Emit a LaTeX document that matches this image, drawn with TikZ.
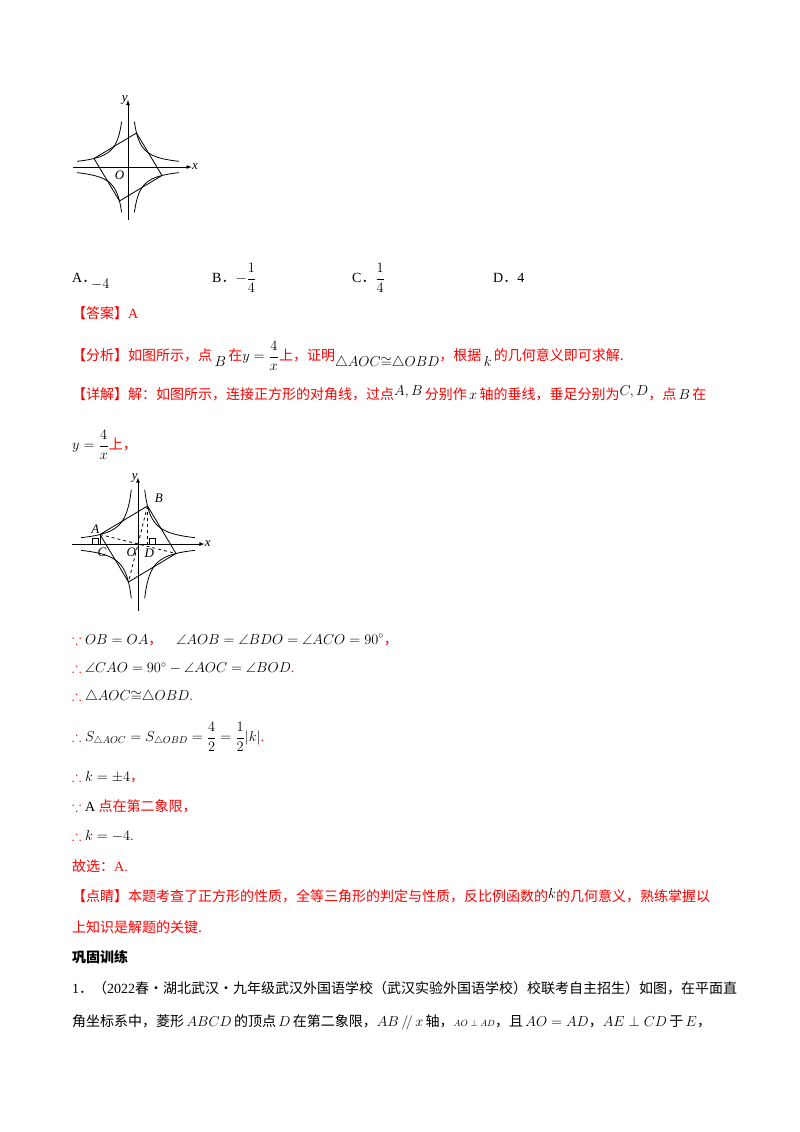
\documentclass[tikz,border=0pt]{standalone}
\usepackage{amsmath,amssymb}
\usepackage{fontspec}
\setmainfont{Liberation Serif}
\newfontfamily\cjk{Noto Sans CJK SC}
\newcommand{\zc}{{\cjk ，}}
\newcommand{\zd}{{\cjk ．}}
\begin{document}
\begin{tikzpicture}[x=1pt,y=-1pt,
  t/.style={anchor=west,inner sep=0pt,font=\fontsize{14}{16}\selectfont},
  r/.style={t,text=red},
  lab/.style={inner sep=0pt,font=\fontsize{13}{14}\selectfont\itshape}]
\useasboundingbox[fill=white] (0,0) rectangle (800,1132);
% diagram 1
\begin{scope}[shift={(128,167)},x=8.5pt,y=8.5pt,line width=0.8pt]
 \draw[-latex] (-6.5,0) -- (7.5,0) node[lab,anchor=west] (x1) {x};
 \draw[-latex] (0,-6.2) -- (0,7.9) node[lab,anchor=east] (y1) {y};
 \foreach \sx/\sy in {1/1,-1/1,1/-1,-1/-1}
  \draw[domain=0.75:6,samples=40] plot ({\sx*\x},{\sy*4/\x});
 \draw (1,4) -- (4,-1) -- (-1,-4) -- (-4,1) -- cycle;
 \node[lab] (o1) at (-1,-1) {O};
\end{scope}
% diagram 2
\begin{scope}[shift={(138,544)},x=9.5pt,y=9.5pt,line width=0.8pt]
 \draw[-latex] (-7,0) -- (7,0) node[lab,anchor=west] (x2) {x};
 \draw[-latex] (0,-7) -- (0,7) node[lab,anchor=east] (y2) {y};
 \foreach \sx/\sy in {1/1,-1/1,1/-1,-1/-1}
  \draw[domain=0.7:6,samples=40] plot ({\sx*\x},{\sy*4/\x});
 \coordinate (A) at (-4,1); \coordinate (B) at (1,4);
 \coordinate (P) at (4,-1); \coordinate (Q) at (-1,-4);
 \coordinate (C) at (-4,0); \coordinate (D) at (1,0);
 \draw (B) -- (P) -- (Q) -- (A) -- cycle;
 \draw[dashed] (A) -- (P); \draw[dashed] (B) -- (Q); \draw[dashed] (B) -- (D);
 \draw (A) -- (C);
 \draw (-4.8,0) rectangle (-4.2,0.6); \draw (1.2,0) rectangle (1.8,0.6);
 \node[lab] (la) at (-4.5,1.6) {A}; \node[lab] (lb) at (2.2,4.8) {B};
 \node[lab] (lc) at (-3.8,-0.9) {C}; \node[lab] (lo) at (-0.7,-0.9) {O};
 \node[lab] (ld) at (1.2,-1.0) {D};
\end{scope}
% text
\node[t] (a) at (72,278) {A\zd};
\node[t] (a2) at (91,284) {$-4$};
\node[t] (b) at (212,278) {B\zd$-\dfrac14$};
\node[t] (c) at (352,278) {C\zd$\dfrac14$};
\node[t] (d) at (493,278) {D\zd 4};
\node[r] (ans) at (72,313) {\cjk 【答案】\rmfamily A};
\node[r] (fx) at (72,356) {\cjk 【分析】如图所示，点\,\textcolor{black}{\raisebox{-6pt}{$B$}}\,在\textcolor{black}{$y=\dfrac4x$}上，证明\textcolor{black}{\raisebox{-6pt}{$\triangle AOC{\cong}\triangle OBD$}}，根据\,\textcolor{black}{\raisebox{-6pt}{$k$}}\,的几何意义即可求解.};
\node[r] (xj) at (72,393) {\cjk 【详解】解：如图所示，连接正方形的对角线，过点\textcolor{black}{\raisebox{4pt}{$A,B$}}\,分别作\,\textcolor{black}{$x$}\,轴的垂线，垂足分别为\textcolor{black}{\raisebox{4pt}{$C,D$}}，点\,\textcolor{black}{$B$}\,在};
\node[r] (l3) at (72,445) {\textcolor{black}{$y=\dfrac4x$}\cjk 上，};
\node[r] (s1) at (72,640) {$\because$ \textcolor{black}{$OB=OA$}\zc\quad\textcolor{black}{$\angle AOB=\angle BDO=\angle ACO=90^\circ$}\zc};
\node[r] (s2) at (72,668) {$\therefore$ \textcolor{black}{$\angle CAO=90^\circ-\angle AOC=\angle BOD$}.};
\node[r] (s3) at (72,697) {$\therefore$ \textcolor{black}{$\triangle AOC{\cong}\triangle OBD$}.};
\node[r] (s4) at (72,737) {$\therefore$ \textcolor{black}{$S_{\triangle AOC}=S_{\triangle OBD}=\dfrac42=\dfrac12|k|$}.};
\node[r] (s5) at (72,777) {$\therefore$ \textcolor{black}{$k=\pm4$}\zc};
\node[r] (s6) at (72,806) {$\because$ \textcolor{black}{A} \cjk 点在第二象限，};
\node[r] (s7) at (72,836) {$\therefore$ \textcolor{black}{$k=-4$}.};
\node[r] (s8) at (72,866) {\cjk 故选：\rmfamily A.};
\node[r] (dj) at (72,896) {\cjk 【点睛】本题考查了正方形的性质，全等三角形的判定与性质，反比例函数的\textcolor{black}{\raisebox{3pt}{$k$}}的几何意义，熟练掌握以};
\node[r] (dj2) at (72,927) {\cjk 上知识是解题的关键.};
\node[t] (gg) at (72,957) {\cjk\bfseries 巩固训练};
\node[t] (q1) at (72,988) {1\zd\cjk（\rmfamily 2022\cjk 春·湖北武汉·九年级武汉外国语学校（武汉实验外国语学校）校联考自主招生）如图，在平面直};
\node[t] (q2) at (72,1022) {\cjk 角坐标系中，菱形\,$ABCD$\,的顶点\,$D$\,在第二象限，$AB\,/\!/\,x$\,轴，{\small$AO\perp AD$}，且\,$AO=AD$，$AE\perp CD$\,于\,$E$，};
\end{tikzpicture}
\end{document}
